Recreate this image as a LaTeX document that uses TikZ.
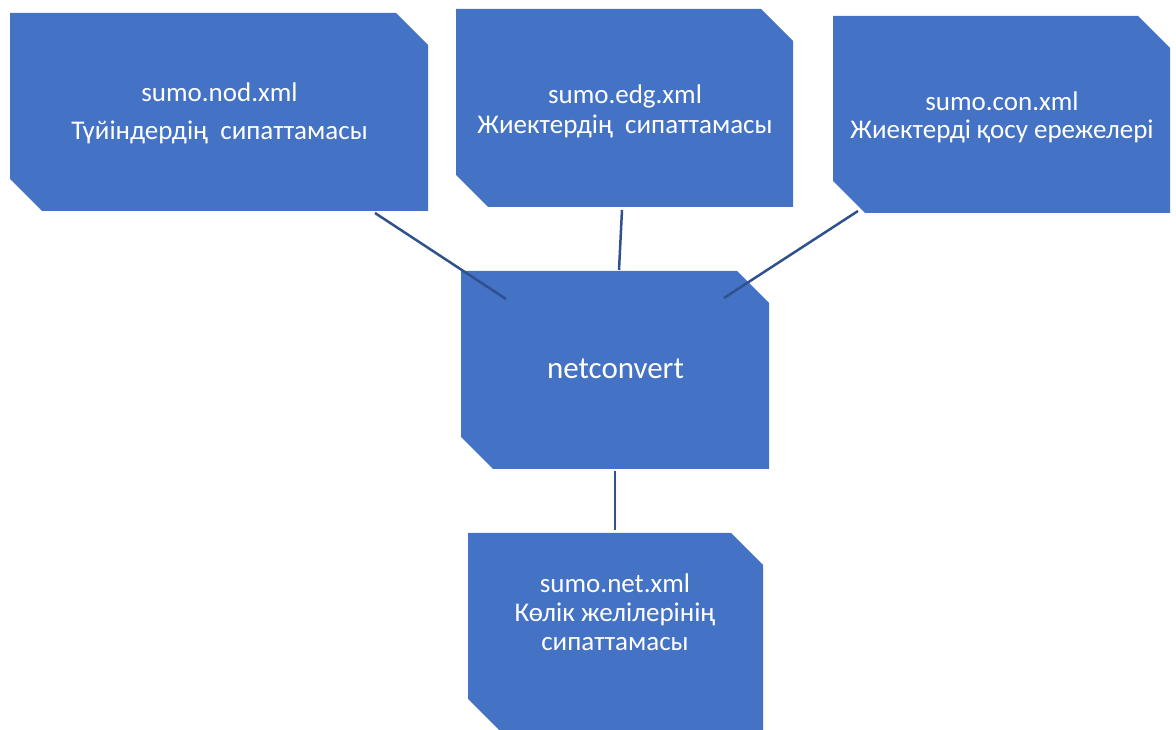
\documentclass[tikz,border=0pt]{standalone}
\usepackage{fontspec}
\setmainfont{Carlito}
\usetikzlibrary{calc,backgrounds}
\definecolor{boxblue}{HTML}{4472C4}
\definecolor{linkblue}{HTML}{2F528F}
\tikzset{
  x=1pt,y=1pt,
  frame/.style={inner sep=0pt,outer sep=0pt,draw=none},
  label27/.style={text=white,align=center,inner sep=0pt,font=\fontsize{27}{#1}\selectfont},
  link/.style={draw=linkblue,line width=2.5pt},
}
\newcommand{\snipbox}[1]{%
  \fill[boxblue] (#1.north west) -- ($(#1.north east)+(-32,0)$) -- ($(#1.north east)+(0,-32)$)
    -- (#1.south east) -- ($(#1.south west)+(32,0)$) -- ($(#1.south west)+(0,32)$) -- cycle;}
\begin{document}
\begin{tikzpicture}
\useasboundingbox (0,0) rectangle (1176,729);
\clip (0,0) rectangle (1176,729);
% frames
\node[frame,minimum width=418,minimum height=198] (nod) at (219,617) {};
\node[frame,minimum width=337,minimum height=198] (edg) at (624.5,621) {};
\node[frame,minimum width=337,minimum height=197] (con) at (1001.5,614.5) {};
\node[frame,minimum width=308,minimum height=198] (nc) at (615,359) {};
\node[frame,minimum width=295,minimum height=198] (net) at (615.5,97) {};
\snipbox{nod}\snipbox{edg}\snipbox{con}\snipbox{nc}\snipbox{net}
% texts
\node[label27=38] (tnod) at (219.5,616) {sumo.nod.xml\\Түйіндердің\ \ сипаттамасы};
\node[label27=30] (tedg) at (625,618) {sumo.edg.xml\\Жиектердің\ \ сипаттамасы};
\node[label27=28] (tcon) at (1002,612) {sumo.con.xml\\Жиектерді қосу ережелері};
\node[label27=29] (tnet) at (615,117) {sumo.net.xml\\Көлік желілерінің\\сипаттамасы};
\node[text=white,inner sep=0pt,anchor=base,font=\fontsize{31}{36}\selectfont] (tnc) at (615.5,350) {netconvert};
% connectors
\coordinate (a1) at (375,516); \coordinate (a2) at (506,430);
\coordinate (b1) at (622,519); \coordinate (b2) at (619,459);
\coordinate (c1) at (858,518); \coordinate (c2) at (724,431);
\coordinate (d1) at (615,258); \coordinate (d2) at (615,199);
\draw[link] (a1) -- (a2);
\draw[link] (b1) -- (b2);
\draw[link] (c1) -- (c2);
\draw[link] (d1) -- (d2);
\end{tikzpicture}
\end{document}
